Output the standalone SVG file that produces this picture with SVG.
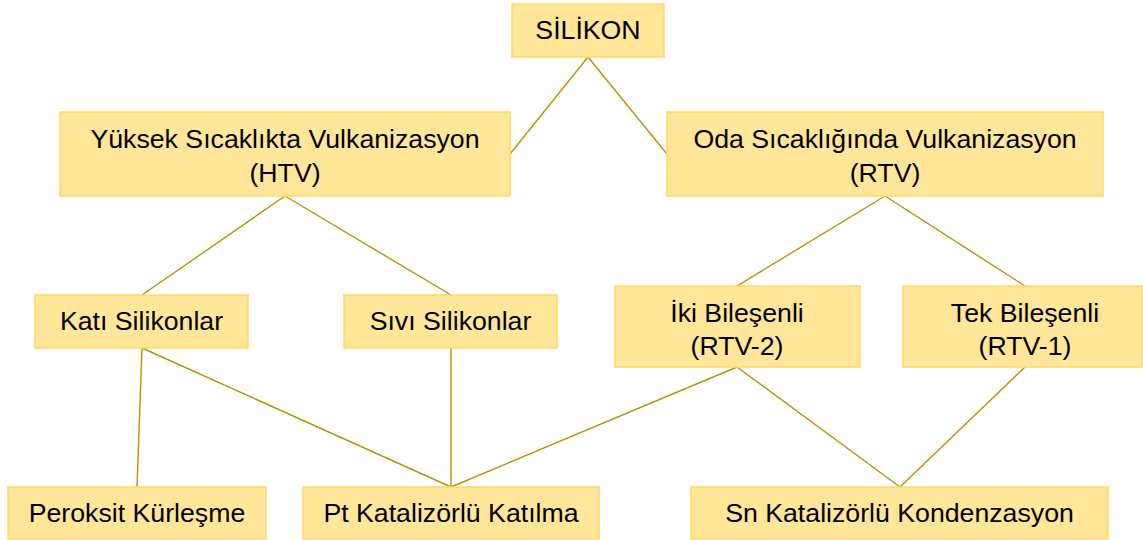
<svg xmlns="http://www.w3.org/2000/svg" width="1143" height="540" viewBox="0 0 1143 540">
<style>
.box{fill:#FFE699;stroke:#FFD966;stroke-width:1.5}
.t{font-family:"Liberation Sans",Arial,sans-serif;font-size:26.7px;fill:#000;text-anchor:middle}
.c{stroke:#BF9000;stroke-width:1.4;fill:none}
</style>
<rect width="1143" height="540" fill="#fff"/>
<g id="connectors">
<line class="c" x1="588" y1="57" x2="510" y2="154"/>
<line class="c" x1="588" y1="57" x2="667" y2="154"/>
<line class="c" x1="285" y1="196" x2="142" y2="295"/>
<line class="c" x1="285" y1="196" x2="451" y2="295"/>
<line class="c" x1="885" y1="196" x2="737" y2="286"/>
<line class="c" x1="885" y1="196" x2="1025" y2="286"/>
<line class="c" x1="142" y1="348" x2="137" y2="487"/>
<line class="c" x1="142" y1="348" x2="451" y2="487"/>
<line class="c" x1="451" y1="348" x2="451" y2="487"/>
<line class="c" x1="737" y1="367" x2="451" y2="487"/>
<line class="c" x1="737" y1="367" x2="900" y2="487"/>
<line class="c" x1="1025" y1="367" x2="900" y2="487"/>
</g>
<g id="silikon"><rect class="box" x="512" y="4" width="152" height="53"/><text class="t" x="588" y="39">SİLİKON</text></g>
<g id="htv"><rect class="box" x="60" y="112" width="450" height="84"/><text class="t" x="285" y="148">Yüksek Sıcaklıkta Vulkanizasyon</text><text class="t" x="285" y="182">(HTV)</text></g>
<g id="rtv"><rect class="box" x="667" y="112" width="436" height="84"/><text class="t" x="885" y="148">Oda Sıcaklığında Vulkanizasyon</text><text class="t" x="885" y="182">(RTV)</text></g>
<g id="kati"><rect class="box" x="35" y="295" width="213" height="53"/><text class="t" x="141.5" y="330">Katı Silikonlar</text></g>
<g id="sivi"><rect class="box" x="344" y="295" width="213" height="53"/><text class="t" x="450.5" y="330">Sıvı Silikonlar</text></g>
<g id="iki"><rect class="box" x="615" y="286" width="245" height="81"/><text class="t" x="737" y="321.5">İki Bileşenli</text><text class="t" x="737" y="355">(RTV-2)</text></g>
<g id="tek"><rect class="box" x="903" y="286" width="240" height="81"/><text class="t" x="1025" y="321.5">Tek Bileşenli</text><text class="t" x="1025" y="355">(RTV-1)</text></g>
<g id="peroksit"><rect class="box" x="8" y="487" width="258" height="52"/><text class="t" x="137" y="522">Peroksit Kürleşme</text></g>
<g id="pt"><rect class="box" x="303" y="487" width="296" height="52"/><text class="t" x="451" y="522">Pt Katalizörlü Katılma</text></g>
<g id="sn"><rect class="box" x="691" y="487" width="417" height="52"/><text class="t" x="899.5" y="522">Sn Katalizörlü Kondenzasyon</text></g>
</svg>
